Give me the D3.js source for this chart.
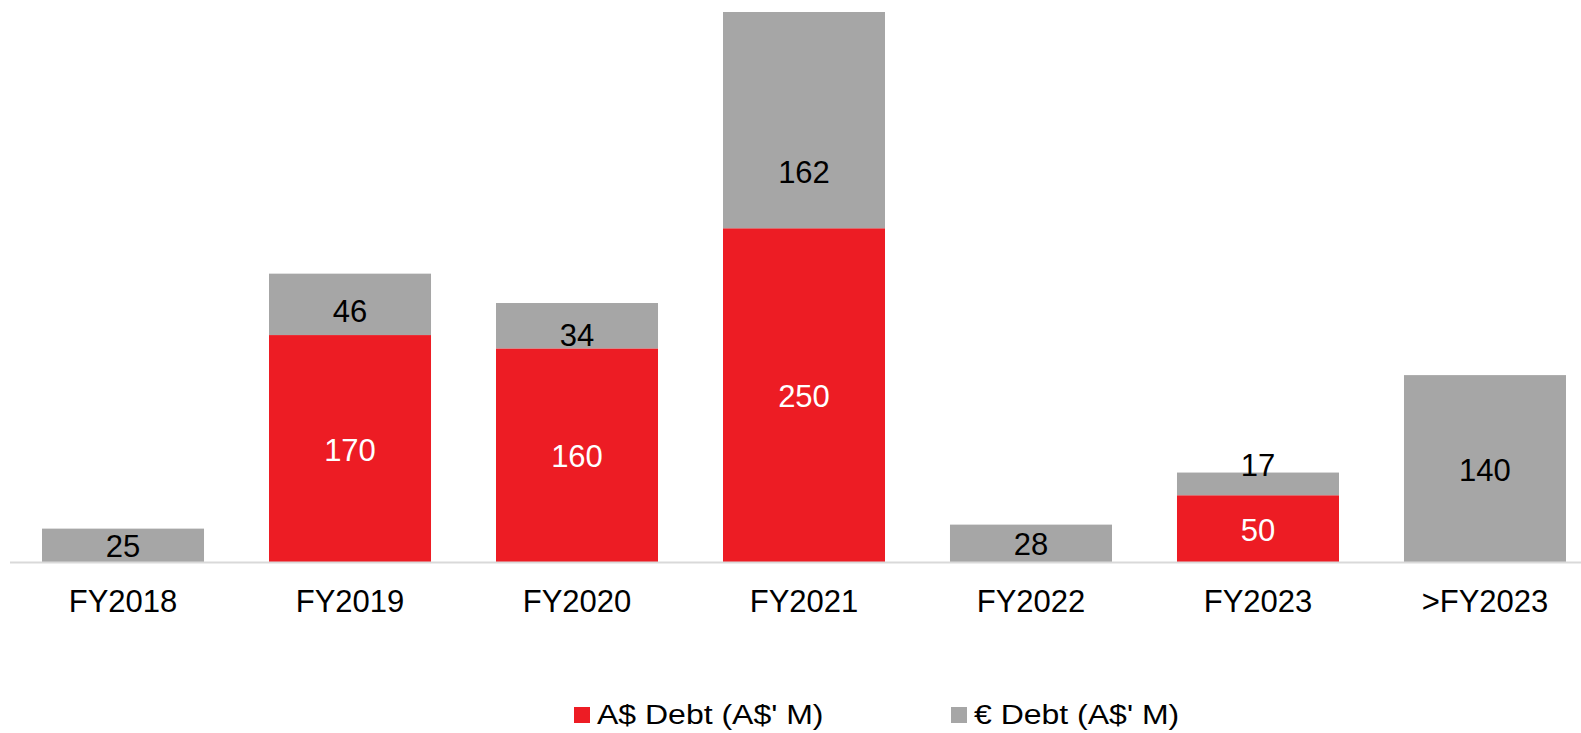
<!DOCTYPE html>
<html>
<head>
<meta charset="utf-8">
<script src="https://cdn.jsdelivr.net/npm/d3@7"></script>
<style>
  html, body { margin: 0; padding: 0; background: #fff; }
  svg { display: block; font-family: "Liberation Sans", Arial, sans-serif; }
</style>
</head>
<body>
<svg id="chart" width="1581" height="733"></svg>
<script>
// ---- data ----
const categories = ["FY2018", "FY2019", "FY2020", "FY2021", "FY2022", "FY2023", ">FY2023"];
const audDebt  = [0, 170, 160, 250, 0, 50, 0];
const euroDebt = [25, 46, 34, 162, 28, 17, 140];
const seriesNames = ["A$ Debt (A$' M)", "€ Debt (A$' M)"];
// label nudges (px) for euro labels, as placed in the original
const euroLabelShift = [0, 6, 8, 51, 0, -20, 0];

// ---- styles ----
const RED = "#ED1C24", GREY = "#A6A6A6", AXIS = "#D9D9D9";
const FONT = 31;
const LEGEND_FONT = 32;

const svg = d3.select("#chart");

const x = d3.scaleBand()
  .domain(categories)
  .range([9.5, 1598.5])
  .paddingInner(0.2863)
  .paddingOuter(0.1432);

const totals = categories.map((c, i) => audDebt[i] + euroDebt[i]);
const y = d3.scaleLinear()
  .domain([0, d3.max(totals)])
  .range([562, 12]);

const rows = categories.map((c, i) => ({ cat: c, aud: audDebt[i], eur: euroDebt[i], i }));
const stack = d3.stack().keys(["aud", "eur"])(rows);
const colors = { aud: RED, eur: GREY };

// bars
svg.append("g").selectAll("g")
  .data(stack)
  .join("g")
  .attr("fill", d => colors[d.key])
  .selectAll("rect")
  .data(d => d.filter(s => s[1] - s[0] > 0))
  .join("rect")
  .attr("x", d => x(d.data.cat))
  .attr("width", x.bandwidth())
  .attr("y", d => y(d[1]))
  .attr("height", d => y(d[0]) - y(d[1]));

// axis
const axis = d3.axisBottom(x).tickSize(0).tickPadding(0);
const axG = svg.append("g").attr("transform", "translate(0,562)").call(axis);
axG.select(".domain").attr("stroke", AXIS).attr("stroke-width", 2).attr("d", "M10,0.5H1581");
axG.selectAll(".tick text")
  .attr("y", 50)
  .attr("dy", null)
  .attr("fill", "#000")
  .attr("font-size", FONT)
  .attr("font-family", "'Liberation Sans', Arial, sans-serif");

// data labels
const capH = FONT * 0.716;
stack.forEach(layer => {
  const g = svg.append("g");
  g.selectAll("text")
    .data(layer.filter(s => s[1] - s[0] > 0))
    .join("text")
    .attr("x", d => x(d.data.cat) + x.bandwidth() / 2)
    .attr("y", d => {
      const c = (y(d[0]) + y(d[1])) / 2 + capH / 2 + 1;
      return layer.key === "eur" ? c + euroLabelShift[d.data.i] : c;
    })
    .attr("text-anchor", "middle")
    .attr("font-size", FONT)
    .attr("fill", layer.key === "aud" ? "#fff" : "#000")
    .text(d => d[1] - d[0]);
});

// legend
const legend = [
  { name: seriesNames[0], color: RED, x: 574 },
  { name: seriesNames[1], color: GREY, x: 951 }
];
const lg = svg.append("g").selectAll("g").data(legend).join("g");
lg.append("rect")
  .attr("x", d => d.x).attr("y", 707)
  .attr("width", 16).attr("height", 16)
  .attr("fill", d => d.color);
lg.append("g")
  .attr("transform", d => `translate(${d.x + 23},723.5) scale(1,0.86)`)
  .append("text")
  .attr("font-size", LEGEND_FONT)
  .attr("fill", "#000")
  .text(d => d.name);
</script>
</body>
</html>
